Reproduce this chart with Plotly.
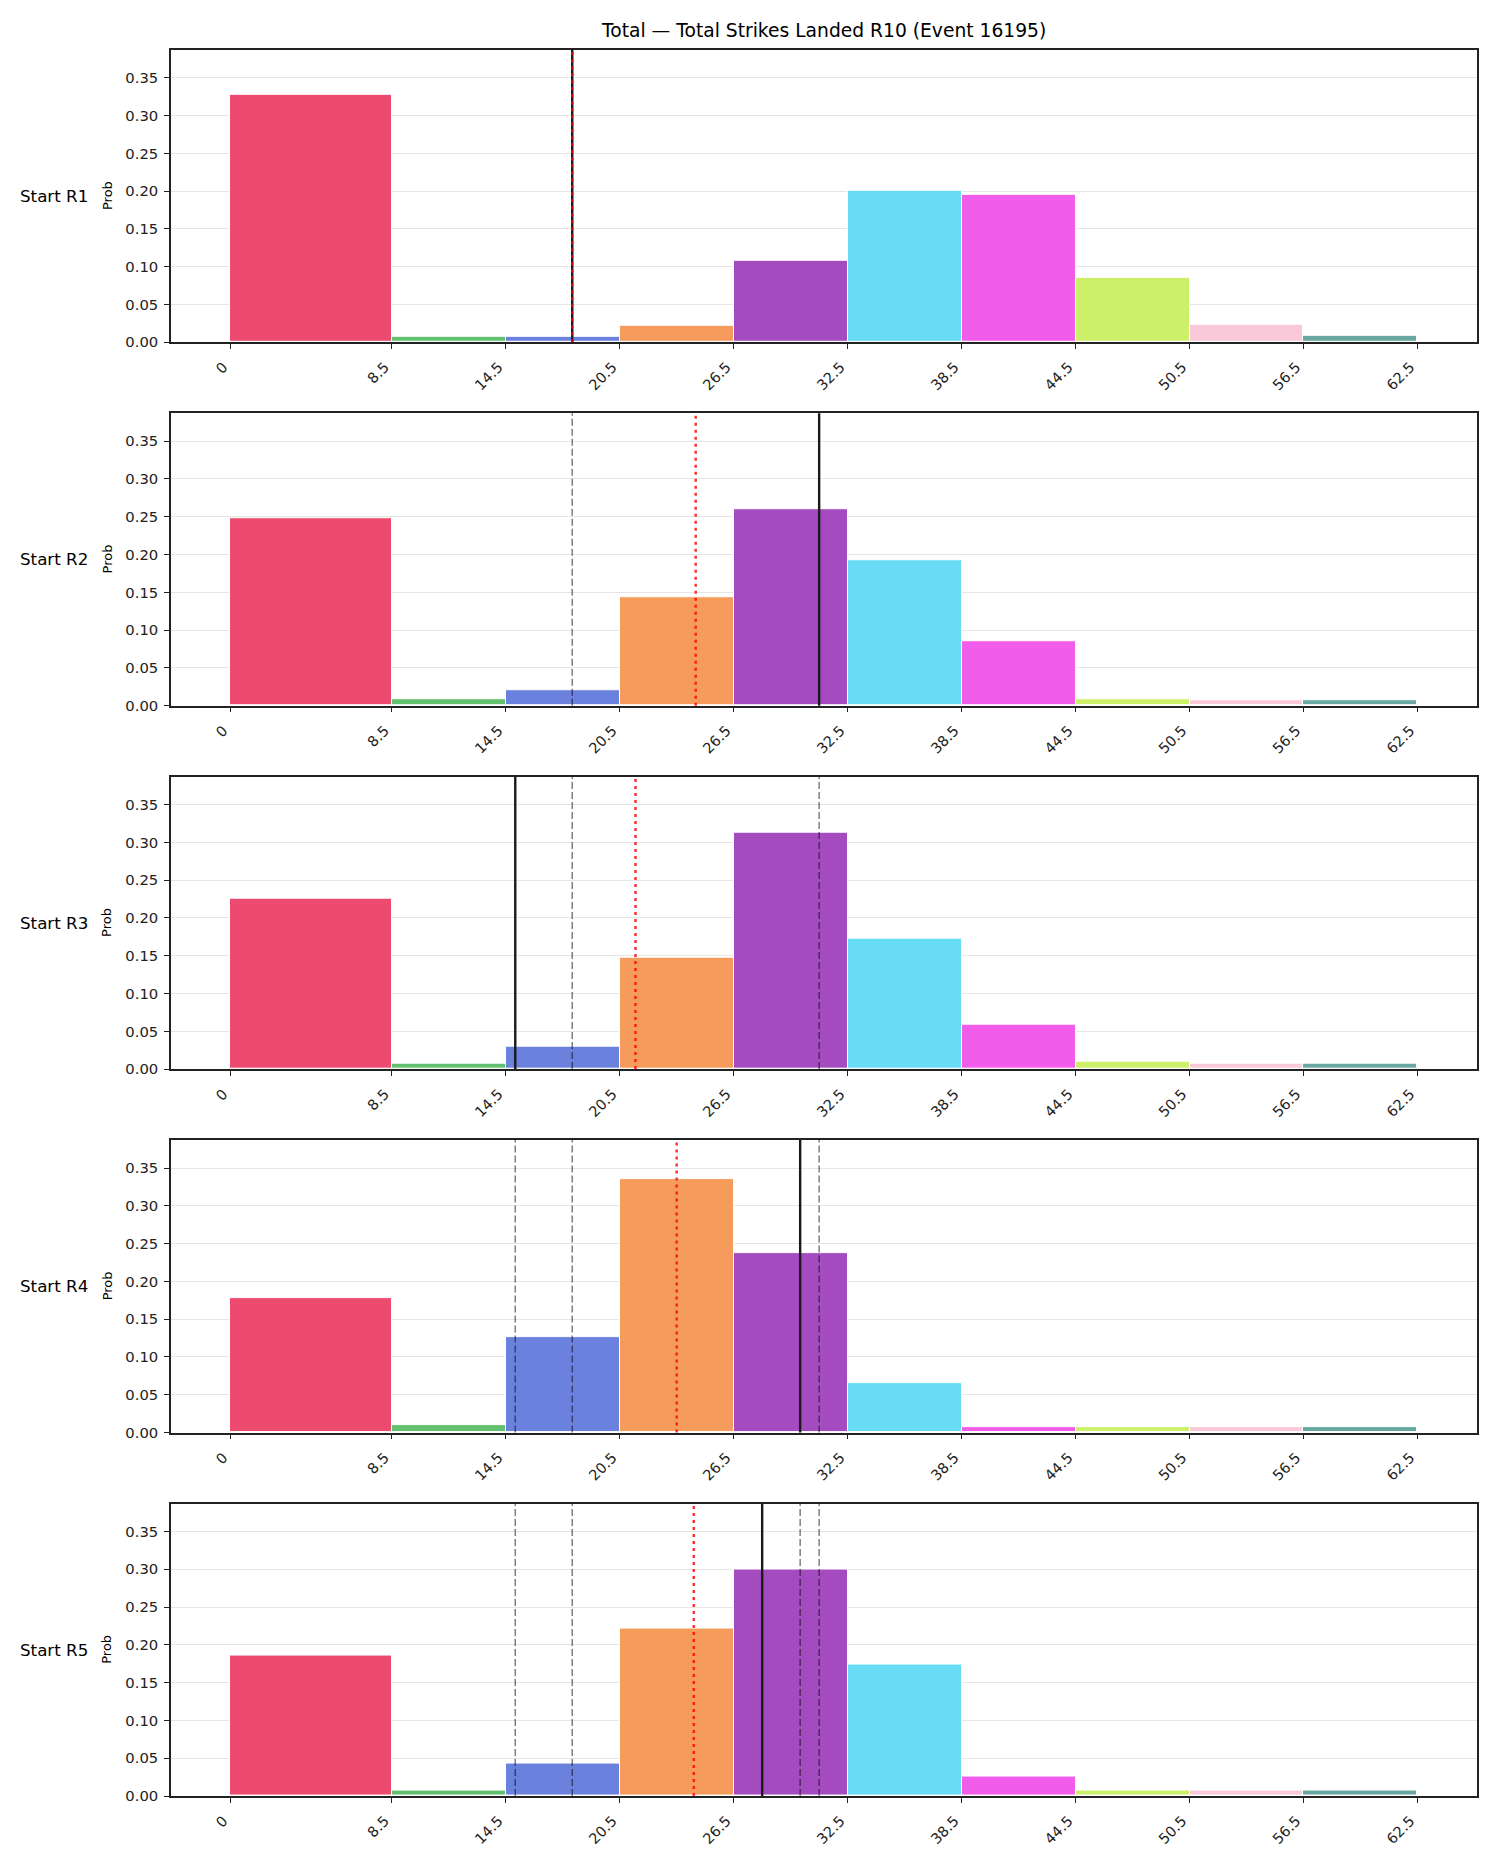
import plotly.graph_objects as go

# ---------------- data ----------------
bin_edges = [0, 8.5, 14.5, 20.5, 26.5, 32.5, 38.5, 44.5, 50.5, 56.5, 62.5]
tick_labels = ["0", "8.5", "14.5", "20.5", "26.5", "32.5", "38.5", "44.5", "50.5", "56.5", "62.5"]
row_labels = ["Start R1", "Start R2", "Start R3", "Start R4", "Start R5"]

prob_r1 = [0.328, 0.0075, 0.0075, 0.0224, 0.108, 0.200, 0.195, 0.0856, 0.0237, 0.0079]
prob_r2 = [0.2477, 0.0079, 0.0211, 0.1436, 0.2596, 0.193, 0.0852, 0.0088, 0.0075, 0.0075]
prob_r3 = [0.226, 0.0075, 0.030, 0.147, 0.313, 0.172, 0.0589, 0.0101, 0.0075, 0.0075]
prob_r4 = [0.1774, 0.0101, 0.1265, 0.336, 0.2372, 0.0654, 0.0075, 0.0075, 0.0075, 0.0075]
prob_r5 = [0.1858, 0.0075, 0.043, 0.2222, 0.300, 0.1735, 0.0259, 0.0075, 0.0075, 0.0075]
probs = [prob_r1, prob_r2, prob_r3, prob_r4, prob_r5]

actual_lines = [18, 31, 15, 30, 28]          # black solid line per row
mean_lines = [18, 24.5, 21.33, 23.5, 24.4]   # red dotted line per row

bar_colors = ["#EC4A6F", "#62C06E", "#6A82DE", "#F59C5C", "#A44BC0",
              "#68DBF5", "#F25CEA", "#CCF06A", "#FAC9D9", "#68A8A0"]

title_text = "Total \u2014 Total Strikes Landed R10 (Event 16195)"

# ---------------- layout geometry ----------------
W, H = 1500, 1875
ax_left, ax_right = 171, 1476.8
panel_tops = [50, 415, 780, 1145, 1510]
panel_h = 293.7
FONT = "DejaVu Sans"
DARK = "#222222"

centers = [(bin_edges[k] + bin_edges[k + 1]) / 2 for k in range(len(bin_edges) - 1)]
widths = [bin_edges[k + 1] - bin_edges[k] for k in range(len(bin_edges) - 1)]

fig = go.Figure()
layout = dict(
    width=W, height=H,
    margin=dict(l=0, r=0, t=0, b=0),
    paper_bgcolor="white", plot_bgcolor="white",
    showlegend=False,
    font=dict(family=FONT, color=DARK, size=14),
    bargap=0,
)
shapes = []
annotations = []

for i, p in enumerate(probs):
    sfx = "" if i == 0 else str(i + 1)
    xname, yname = "x" + sfx, "y" + sfx
    fig.add_trace(go.Bar(
        x=centers, y=p, width=widths,
        marker=dict(color=bar_colors, line=dict(color="white", width=1)),
        xaxis=xname, yaxis=yname, hoverinfo="x+y",
    ))
    top = panel_tops[i]
    y0 = 1 - (top + panel_h) / H
    y1 = 1 - top / H
    layout["xaxis" + sfx] = dict(
        domain=[ax_left / W, ax_right / W], anchor=yname,
        range=[-3.125, 65.625],
        tickmode="array", tickvals=bin_edges, ticktext=tick_labels,
        tickangle=-45, ticks="outside", ticklen=5, tickwidth=1.3, tickcolor=DARK,
        ticklabelshift=-7, ticklabelstandoff=4,
        showgrid=False, zeroline=False,
        showline=True, linecolor=DARK, linewidth=1.6, mirror=True,
        tickfont=dict(family=FONT, size=14.5, color=DARK),
    )
    layout["yaxis" + sfx] = dict(
        domain=[y0, y1], anchor=xname,
        range=[0, 0.387],
        tickmode="array", tickvals=[0, 0.05, 0.10, 0.15, 0.20, 0.25, 0.30, 0.35],
        tickformat=".2f",
        ticks="outside", ticklen=5, tickwidth=1.3, tickcolor=DARK,
        showgrid=True, gridcolor="#E6E6E6", gridwidth=1,
        zeroline=False,
        showline=True, linecolor=DARK, linewidth=1.6, mirror=True,
        tickfont=dict(family=FONT, size=14.8, color=DARK),
        ticklabelstandoff=3,
    )
    # previous rounds' actual values (gray dashed)
    for prev in actual_lines[:i]:
        shapes.append(dict(type="line", xref=xname, yref=yname + " domain",
                           x0=prev, x1=prev, y0=0, y1=1, layer="above",
                           line=dict(color="rgba(0,0,0,0.5)", width=1.5, dash="7px,3px")))
    # current actual value (black solid)
    shapes.append(dict(type="line", xref=xname, yref=yname + " domain",
                       x0=actual_lines[i], x1=actual_lines[i], y0=0, y1=1, layer="above",
                       line=dict(color="#1a1a1a", width=2.4)))
    # running mean (red dotted)
    shapes.append(dict(type="line", xref=xname, yref=yname + " domain",
                       x0=mean_lines[i], x1=mean_lines[i], y0=0, y1=1, layer="above",
                       line=dict(color="rgba(255,0,0,0.8)", width=2.5, dash="3px,4px")))
    yc = 1 - (top + panel_h / 2) / H
    annotations.append(dict(text=row_labels[i], xref="paper", yref="paper",
                            x=90 / W, y=yc, xanchor="right", yanchor="middle",
                            showarrow=False, font=dict(family=FONT, size=16.7, color="black")))
    annotations.append(dict(text="Prob", xref="paper", yref="paper",
                            x=107 / W, y=yc, xanchor="center", yanchor="middle",
                            textangle=-90, showarrow=False,
                            font=dict(family=FONT, size=13, color="black")))

annotations.append(dict(text=title_text, xref="paper", yref="paper",
                        x=(ax_left + ax_right) / 2 / W, y=1 - 31 / H,
                        xanchor="center", yanchor="middle", showarrow=False,
                        font=dict(family=FONT, size=18.7, color="black")))

layout["shapes"] = shapes
layout["annotations"] = annotations
fig.update_layout(**layout)
fig.write_html("out.html")
